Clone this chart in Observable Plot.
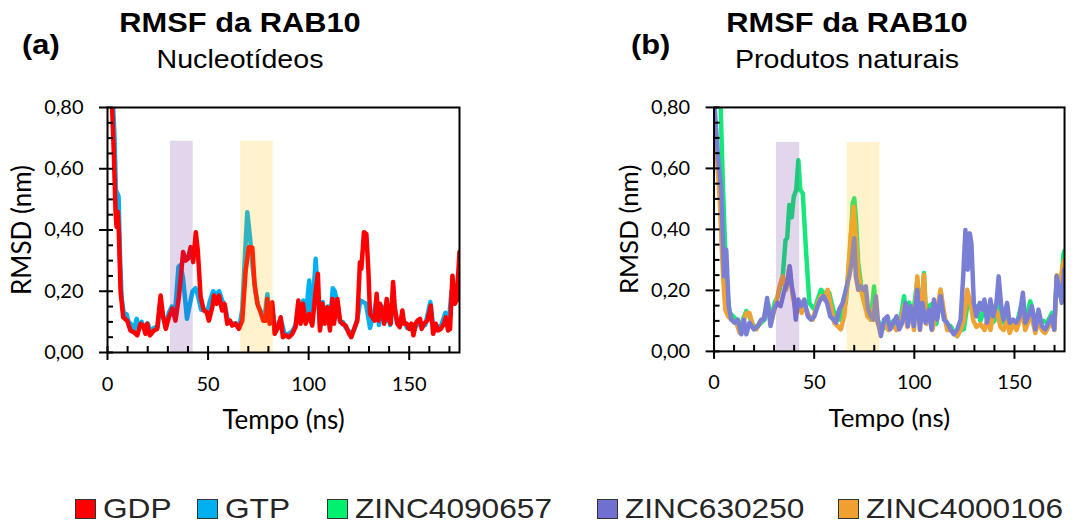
<!DOCTYPE html>
<html>
<head>
<meta charset="utf-8">
<script src="https://cdn.jsdelivr.net/npm/d3@7"></script>
<script src="https://cdn.jsdelivr.net/npm/@observablehq/plot@0.6"></script>
<style>
  html, body { margin: 0; padding: 0; background: #fff; }
  #page { position: relative; width: 1075px; height: 524px; overflow: hidden; background: #fff; }
  .t { position: absolute; font-family: "Liberation Sans", Arial, sans-serif; line-height: 1; white-space: nowrap; color: #000; }
  .title { font-weight: bold; font-size: 28px; transform: translateX(-50%) scaleX(1.1); }
  .sub { font-size: 26px; transform: translateX(-50%) scaleX(1.1); }
  .tag { font-weight: bold; font-size: 28px; transform-origin: left; transform: scaleX(1.1); }
  .panel { position: absolute; top: 90px; }
  .sw { position: absolute; top: 499px; width: 19px; height: 18px; border: 1px solid #333; }
  .lt { position: absolute; font-family: "Liberation Sans", Arial, sans-serif; font-size: 28px; line-height: 1.05; color: #262626; transform-origin: left; transform: scaleX(1.13); white-space: nowrap; }
</style>
</head>
<body>
<div id="page"></div>
<script>
// ---------------- data ----------------
const panelTitles = ["RMSF da RAB10", "RMSF da RAB10"];
const panelSubtitles = ["Nucleotídeos", "Produtos naturais"];
const panelTags = ["(a)", "(b)"];
const xLabel = "Tempo (ns)";
const yLabel = "RMSD (nm)";
const xTicks = [0, 50, 100, 150];
const xMinorTicks = [0, 10, 20, 30, 40, 50, 60, 70, 80, 90, 100, 110, 120, 130, 140, 150, 160, 170];
const yTicks = [0, 0.2, 0.4, 0.6, 0.8];
const yMinorTicks = [0, 0.05, 0.1, 0.15, 0.2, 0.25, 0.3, 0.35, 0.4, 0.45, 0.5, 0.55, 0.6, 0.65, 0.7, 0.75, 0.8];

const seriesNames = ["GDP", "GTP", "ZINC4090657", "ZINC630250", "ZINC4000106"];
const seriesColors = ["#ff0000", "#00b0f0", "#14e87a", "#7a7fd6", "#f0a234"];
const legendColors = ["#ff0000", "#00b0f0", "#00f070", "#7070d0", "#f0a030"];

// [tempo (ns), RMSD (nm)]
const gdp = [[0,1.05],[1,0.95],[2.3,0.80],[3.2,0.64],[4.0,0.46],[4.5,0.41],[5.1,0.46],[5.6,0.40],[6.5,0.20],[7.8,0.115],[9.8,0.104],[11.4,0.072],[13.1,0.066],[14.8,0.056],[16.4,0.094],[17.7,0.088],[18.9,0.061],[19.7,0.094],[21.1,0.056],[23.1,0.072],[24.7,0.077],[26.4,0.186],[27.7,0.115],[29.0,0.077],[30.5,0.115],[32.2,0.143],[33.8,0.104],[35.5,0.181],[37.6,0.328],[38.8,0.30],[40.0,0.306],[41.3,0.344],[42.6,0.295],[43.9,0.393],[44.9,0.333],[46.3,0.181],[47.9,0.137],[49.3,0.132],[50.4,0.104],[52.1,0.148],[52.9,0.186],[54.2,0.159],[55.4,0.186],[57.0,0.137],[58.2,0.159],[59.5,0.094],[60.9,0.104],[62.0,0.088],[63.7,0.094],[65.3,0.077],[67.0,0.104],[68.7,0.268],[70.3,0.344],[72.0,0.342],[73.1,0.224],[74.5,0.159],[76.1,0.132],[77.4,0.104],[78.8,0.104],[79.4,0.175],[80.6,0.094],[81.9,0.164],[83.1,0.061],[84.4,0.077],[86.1,0.115],[87.2,0.05],[88.6,0.056],[90.2,0.05],[91.9,0.061],[93.5,0.083],[94.9,0.17],[96.0,0.094],[97.2,0.159],[98.5,0.094],[100.2,0.126],[101.8,0.088],[103.5,0.202],[104.6,0.257],[105.6,0.072],[106.8,0.159],[108.0,0.094],[109.3,0.148],[110.6,0.072],[111.8,0.175],[112.6,0.094],[114.3,0.175],[115.6,0.104],[116.7,0.094],[118.4,0.088],[120.1,0.061],[121.2,0.05],[122.6,0.077],[124.2,0.104],[125.5,0.295],[126.2,0.273],[127.5,0.393],[128.7,0.387],[129.7,0.268],[130.5,0.126],[131.7,0.115],[132.8,0.104],[133.8,0.192],[134.7,0.104],[135.5,0.159],[136.7,0.132],[137.5,0.094],[138.8,0.175],[140.0,0.104],[140.8,0.094],[142.0,0.23],[142.8,0.148],[144.1,0.094],[145.3,0.083],[146.6,0.137],[147.4,0.094],[148.8,0.094],[149.9,0.077],[151.1,0.094],[152.1,0.056],[153.2,0.094],[154.1,0.104],[155.4,0.11],[156.2,0.077],[157.4,0.094],[159.0,0.104],[160.7,0.153],[161.9,0.061],[163.2,0.094],[164.3,0.072],[165.7,0.077],[167.3,0.094],[168.2,0.115],[169.3,0.072],[170.3,0.077],[171.5,0.251],[172.6,0.159],[173.6,0.17],[175.0,0.328]];

const gtp = [[0,1.05],[1,0.95],[2.5,0.85],[3.5,0.70],[4.2,0.53],[5.5,0.51],[6.3,0.30],[7,0.18],[8,0.13],[9.5,0.125],[10.5,0.10],[12,0.09],[13,0.07],[14.5,0.11],[15.5,0.08],[17,0.10],[18.5,0.075],[20,0.095],[21.5,0.065],[23,0.08],[25,0.085],[26.4,0.17],[27.5,0.12],[29,0.09],[30.5,0.13],[32,0.15],[33.5,0.12],[35.3,0.28],[36.2,0.285],[37.5,0.245],[38.5,0.18],[39.5,0.11],[41,0.16],[42.3,0.20],[43.8,0.21],[45,0.185],[46.5,0.14],[48,0.14],[49.5,0.13],[51,0.17],[52.5,0.20],[54,0.19],[55.5,0.20],[57,0.17],[58.5,0.15],[60,0.10],[62,0.095],[64,0.095],[65.5,0.08],[67,0.14],[68.3,0.31],[69.5,0.458],[70.8,0.38],[72.3,0.27],[73.5,0.20],[75,0.15],[76.5,0.13],[78,0.11],[79.5,0.19],[80.8,0.10],[82,0.14],[83.5,0.075],[85,0.08],[86.5,0.10],[88,0.06],[90,0.06],[92,0.07],[93.5,0.09],[95,0.155],[96.2,0.10],[97.3,0.17],[98.5,0.11],[100.3,0.235],[101.5,0.10],[103.5,0.306],[104.7,0.16],[105.8,0.08],[107,0.165],[108.3,0.10],[109.5,0.15],[110.6,0.09],[112,0.21],[113,0.20],[114.3,0.16],[115.6,0.10],[117,0.10],[118.5,0.08],[120,0.07],[121.5,0.06],[123,0.08],[124.5,0.12],[125.7,0.17],[127,0.165],[128.5,0.16],[129.5,0.12],[130.5,0.08],[132,0.12],[133.8,0.17],[135,0.09],[136.5,0.15],[138,0.10],[139,0.16],[140.5,0.09],[142,0.18],[143.5,0.11],[145,0.09],[147,0.11],[149,0.08],[151,0.09],[152.5,0.07],[154,0.10],[156,0.085],[158,0.09],[160.5,0.165],[162,0.08],[164,0.08],[166,0.09],[168,0.13],[169.5,0.08],[171,0.20],[172.5,0.16],[174,0.18],[175,0.27]];

const zinc4090657 = [[0,1.1],[2,0.95],[3.3,0.80],[4.5,0.53],[5.6,0.33],[6.6,0.20],[7.8,0.126],[9.5,0.115],[11.1,0.104],[12.8,0.072],[14.4,0.104],[16.1,0.132],[17.7,0.115],[19.4,0.088],[21.1,0.077],[23.5,0.094],[25.2,0.104],[26.9,0.159],[28.5,0.104],[30.2,0.159],[31.8,0.18],[34.3,0.246],[35.7,0.366],[36.5,0.371],[37.6,0.48],[38.8,0.44],[39.8,0.507],[41.0,0.529],[42.1,0.627],[43.1,0.529],[44.3,0.518],[45.9,0.333],[47.6,0.159],[48.8,0.148],[50.1,0.137],[51.7,0.17],[53.4,0.202],[54.7,0.192],[55.9,0.17],[57.5,0.192],[58.7,0.159],[60.4,0.115],[61.7,0.126],[63.0,0.104],[64.2,0.132],[65.8,0.159],[68.0,0.333],[69.2,0.485],[70.0,0.502],[70.8,0.442],[72.0,0.29],[73.3,0.224],[75.0,0.159],[76.6,0.137],[78.3,0.104],[79.9,0.213],[80.8,0.115],[82.4,0.094],[84.1,0.072],[85.7,0.094],[87.5,0.08],[89.5,0.10],[91,0.09],[93,0.10],[94.9,0.181],[96,0.11],[97.5,0.16],[99,0.10],[101.5,0.235],[102.8,0.10],[104.8,0.257],[106,0.10],[107.5,0.15],[109.8,0.159],[111,0.09],[113.1,0.202],[114.5,0.12],[116.4,0.08],[118.1,0.083],[120,0.06],[121.4,0.05],[123,0.07],[124.7,0.072],[126.4,0.148],[128.0,0.159],[130,0.13],[131.3,0.148],[133,0.10],[135,0.14],[136.3,0.137],[138,0.09],[140,0.10],[141.3,0.17],[143,0.10],[144.6,0.094],[146.3,0.11],[148,0.08],[149.6,0.083],[151.5,0.10],[153.7,0.159],[155.5,0.10],[157.9,0.164],[159.5,0.12],[161.2,0.115],[163,0.09],[164.5,0.10],[166.2,0.094],[168.7,0.126],[170,0.10],[171.1,0.246],[172.8,0.181],[174.5,0.32],[175,0.33]];

const zinc4000106 = [[0,0.66],[1.2,0.66],[2.8,0.50],[4.5,0.246],[5.6,0.137],[7.0,0.115],[8.6,0.104],[11.1,0.094],[12.8,0.061],[14.4,0.094],[16.1,0.126],[17.7,0.126],[19.4,0.083],[21.1,0.072],[22.7,0.094],[24.4,0.104],[26.9,0.148],[28.5,0.094],[31.0,0.159],[32.7,0.213],[34.3,0.246],[36.0,0.202],[37.6,0.279],[39.3,0.181],[41.0,0.126],[42.6,0.148],[43.8,0.126],[45.1,0.148],[47.6,0.115],[49.3,0.104],[51.7,0.159],[53.4,0.181],[55.1,0.17],[56.7,0.202],[58.4,0.148],[60.0,0.094],[61.7,0.083],[63.3,0.072],[65.0,0.115],[66.7,0.235],[68.3,0.387],[69.7,0.474],[70.8,0.366],[72.0,0.257],[73.3,0.202],[75.0,0.159],[76.6,0.115],[78.3,0.104],[79.9,0.148],[81.6,0.094],[83.3,0.072],[85,0.09],[87,0.07],[89,0.09],[91,0.07],[93,0.09],[94.9,0.15],[96.5,0.08],[98.2,0.14],[99.8,0.07],[101.5,0.246],[102.8,0.07],[104.8,0.251],[106,0.09],[107.5,0.13],[109,0.07],[111.4,0.14],[113.1,0.202],[114.8,0.13],[116.4,0.07],[118.1,0.07],[119.7,0.06],[121.4,0.05],[123.1,0.07],[124.7,0.10],[126.4,0.202],[128.0,0.159],[129.5,0.10],[131,0.08],[133,0.09],[135,0.07],[136.3,0.10],[138,0.07],[139.3,0.12],[141.3,0.13],[143,0.08],[144.6,0.07],[146.3,0.10],[147.6,0.06],[149.3,0.09],[151,0.07],[152.6,0.10],[154.2,0.12],[155.4,0.07],[157,0.10],[158.7,0.11],[160.4,0.06],[162,0.10],[163.7,0.07],[165.3,0.06],[167,0.08],[168.7,0.10],[170,0.07],[171.1,0.25],[172.5,0.20],[174,0.28],[175,0.30]];

const zinc630250 = [[0,0.82],[0.3,0.80],[2.0,0.638],[3.6,0.529],[5.0,0.246],[6.1,0.333],[7.3,0.148],[8.6,0.104],[10.3,0.094],[11.9,0.104],[13.6,0.056],[14.9,0.104],[16.1,0.056],[17.7,0.094],[19.9,0.072],[21.9,0.083],[23.5,0.104],[24.9,0.104],[26.5,0.175],[28.2,0.083],[29.9,0.137],[31.5,0.159],[33.2,0.148],[35.2,0.202],[36.5,0.224],[37.8,0.279],[38.8,0.213],[39.8,0.181],[40.8,0.104],[42.1,0.17],[43.4,0.148],[45.1,0.17],[46.8,0.115],[48.4,0.104],[50.1,0.115],[51.7,0.148],[53.1,0.17],[54.7,0.181],[56.4,0.159],[58.0,0.115],[59.7,0.104],[60.9,0.094],[62.5,0.137],[64.2,0.159],[65.8,0.202],[67.5,0.246],[68.7,0.29],[70.0,0.371],[70.8,0.246],[72.0,0.202],[73.3,0.213],[74.6,0.202],[75.8,0.213],[76.9,0.137],[78.3,0.115],[79.6,0.104],[80.8,0.181],[81.9,0.094],[83.3,0.05],[84.9,0.104],[86.6,0.115],[87.9,0.072],[89.6,0.094],[91.2,0.115],[92.4,0.072],[94.0,0.094],[95.7,0.159],[96.8,0.083],[98.2,0.148],[99.8,0.083],[101.5,0.202],[102.8,0.072],[104.0,0.159],[105.6,0.094],[107.3,0.137],[108.6,0.072],[109.8,0.17],[111.4,0.104],[113.1,0.181],[114.8,0.104],[116.4,0.094],[118.1,0.072],[119.7,0.056],[121.4,0.072],[123.1,0.104],[124.4,0.246],[125.5,0.398],[126.7,0.268],[127.7,0.387],[128.5,0.355],[129.7,0.159],[131.0,0.115],[132.7,0.159],[133.8,0.137],[135.0,0.17],[136.3,0.094],[138.0,0.17],[139.3,0.115],[141.0,0.159],[142.1,0.246],[143.4,0.148],[144.6,0.104],[146.3,0.159],[147.6,0.094],[149.3,0.104],[150.9,0.094],[152.6,0.115],[154.2,0.192],[155.4,0.094],[157.0,0.115],[158.7,0.148],[160.4,0.072],[162.0,0.137],[163.7,0.083],[165.3,0.072],[167.0,0.094],[168.7,0.115],[169.8,0.072],[171.1,0.246],[172.5,0.202],[173.6,0.159],[174.8,0.268]];

// highlighted regions [start ns, end ns, top RMSD]
const bandsA = [[31.3, 42.6, 0.69], [66.2, 82.4, 0.69]];
const bandsB = [[31.2, 42.8, 0.685], [66.4, 82.9, 0.685]];
const bandColors = ["#7030a0", "#ffc000"];

// ---------------- drawing ----------------
const fmt = d => d.toFixed(2).replace(".", ",");
const rows = pairs => pairs.map(([t, v]) => ({t, v}));

function panel(series, bands) {
  return Plot.plot({
    width: 470, height: 350,
    marginLeft: 107, marginRight: 11, marginTop: 17, marginBottom: 88,
    x: {domain: [0, 175]},
    y: {domain: [0, 0.8]},
    style: {fontFamily: "Lato, 'Open Sans', sans-serif", fontSize: "20px", color: "#000", background: "transparent", overflow: "visible"},
    marks: [
      ...series.map(s => Plot.line(rows(s.data), {x: "t", y: "v", stroke: s.color, strokeWidth: 4.5, strokeLinejoin: "round", clip: true})),
      ...bands.map((b, i) => Plot.rect([{x1: b[0], x2: b[1], y2: b[2]}], {x1: "x1", x2: "x2", y1: 0, y2: "y2", fill: bandColors[i], fillOpacity: 0.2})),
      Plot.frame({stroke: "#000", strokeWidth: 2}),
      Plot.axisX(xMinorTicks, {tickSize: -6, tickFormat: () => "", strokeWidth: 2, label: null}),
      Plot.axisX(xTicks, {tickSize: 8, tickPadding: 16, tickFormat: d => String(d), strokeWidth: 2, label: null, fontSize: 20}),
      Plot.axisY(yMinorTicks, {tickSize: -6, tickFormat: () => "", strokeWidth: 2, label: null}),
      Plot.axisY(yTicks, {tickSize: 8, tickPadding: 16, tickFormat: fmt, strokeWidth: 2, label: null, fontSize: 20}),
      Plot.text([xLabel], {text: d => d, frameAnchor: "bottom", lineAnchor: "middle", textAnchor: "middle", dy: 68, fontSize: 26}),
      Plot.text([yLabel], {text: d => d, frameAnchor: "left", lineAnchor: "middle", textAnchor: "middle", dx: -85, rotate: -90, fontSize: 26})
    ]
  });
}

const page = document.getElementById("page");
function addDiv(cls, text, left, top) {
  const d = document.createElement("div");
  d.className = cls;
  d.textContent = text;
  d.style.left = left + "px";
  if (top !== null) d.style.top = top + "px";
  page.appendChild(d);
  return d;
}

const panels = [
  {left: 0, series: [{data: gtp, color: seriesColors[1]}, {data: gdp, color: seriesColors[0]}], bands: bandsA, cx: 240, tagX: 22},
  {left: 607, series: [{data: zinc4090657, color: seriesColors[2]}, {data: zinc4000106, color: seriesColors[4]}, {data: zinc630250, color: seriesColors[3]}], bands: bandsB, cx: 847, tagX: 631}
];

panels.forEach((p, i) => {
  const svg = panel(p.series, p.bands);
  const wrap = document.createElement("div");
  wrap.className = "panel";
  wrap.style.left = p.left + "px";
  wrap.appendChild(svg);
  page.appendChild(wrap);
  addDiv("t title", panelTitles[i], p.cx, 9);
  addDiv("t sub", panelSubtitles[i], p.cx, 46);
  addDiv("t tag", panelTags[i], p.tagX, 31);
});

// legend
const legendX = [75, 197, 327, 597, 838];
seriesNames.forEach((name, i) => {
  const sw = addDiv("sw", "", legendX[i], null);
  sw.style.background = legendColors[i];
  addDiv("lt", name, legendX[i] + 28, 494);
});
</script>
</body>
</html>
